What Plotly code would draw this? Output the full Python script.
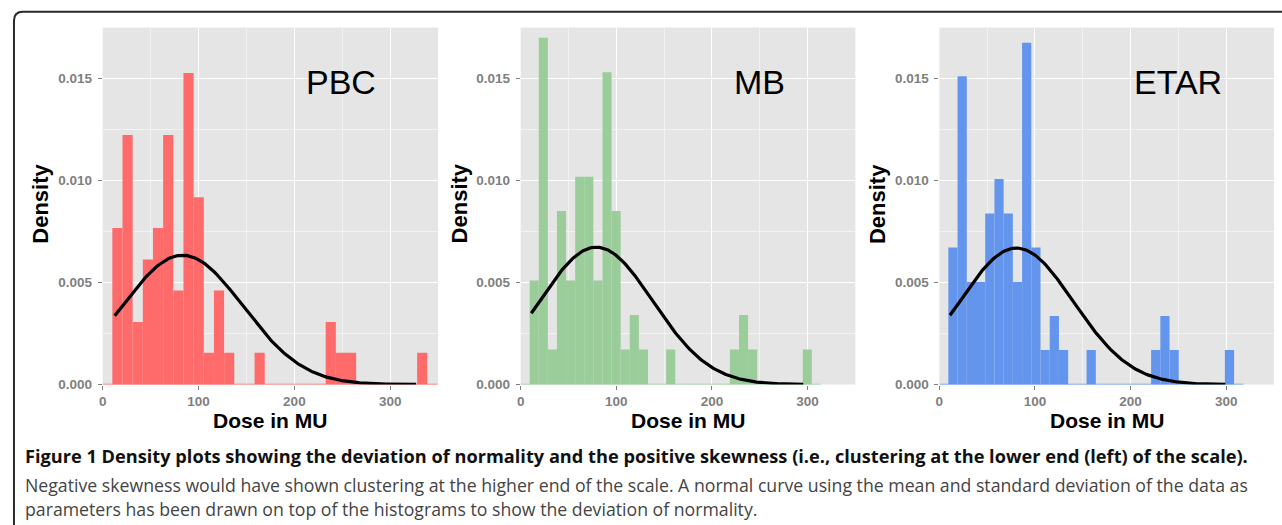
import numpy as np
import plotly.graph_objects as go

# ---------------- data ----------------
dose_ticks = [0, 100, 200, 300]
density_ticks = [0.000, 0.005, 0.010, 0.015]

pbc_bin_start = 10.07
pbc_bin_width = 10.6
pbc_density = [0.00766, 0.01222, 0.00306, 0.00612, 0.00766, 0.01222, 0.00460, 0.01526,
               0.00917, 0.00156, 0.00460, 0.00156, 0, 0, 0.00156, 0, 0, 0, 0, 0, 0,
               0.00306, 0.00156, 0.00156, 0, 0, 0, 0, 0, 0, 0.00156]
pbc_mean, pbc_sd, pbc_min, pbc_max = 83.3, 63.0, 12.5, 327.0

mb_bin_start = 9.38
mb_bin_width = 9.52
mb_density = [0.00510, 0.01698, 0.00171, 0.00850, 0.00510, 0.01017, 0.01017, 0.00510,
              0.01529, 0.00850, 0.00171, 0.00341, 0.00171, 0, 0, 0.00171, 0, 0, 0, 0, 0, 0,
              0.00171, 0.00341, 0.00171, 0, 0, 0, 0, 0, 0.00171]
mb_mean, mb_sd, mb_min, mb_max = 79.0, 59.3, 11.1, 295.5

etar_bin_start = 9.38
etar_bin_width = 9.64
etar_density = [0.00671, 0.01510, 0.00502, 0.00502, 0.00837, 0.01006, 0.00837, 0.00502,
                0.01674, 0.00671, 0.00169, 0.00336, 0.00169, 0, 0, 0.00169, 0, 0, 0, 0, 0, 0,
                0.00169, 0.00336, 0.00169, 0, 0, 0, 0, 0, 0.00169]
etar_mean, etar_sd, etar_min, etar_max = 80.6, 59.7, 11.1, 299.0

panel_names = ["PBC", "MB", "ETAR"]

caption_bold = ("Figure 1 Density plots showing the deviation of normality and the positive "
                "skewness (i.e., clustering at the lower end (left) of the scale).")
caption_line2 = ("Negative skewness would have shown clustering at the higher end of the scale. "
                 "A normal curve using the mean and standard deviation of the data as")
caption_line3 = ("parameters has been drawn on top of the histograms to show the deviation of normality.")

# ---------------- layout / styling ----------------
W, H = 1282, 525


def px(x):
    return x / W


def py(y):
    return 1 - y / H


panels = [
    dict(name=panel_names[0], color="#FF6B6B", start=pbc_bin_start, width=pbc_bin_width,
         dens=pbc_density, mean=pbc_mean, sd=pbc_sd, lo=pbc_min, hi=pbc_max,
         dom=(99, 435.5), lab_x=338, ytitle_x=37),
    dict(name=panel_names[1], color="#9BCD9B", start=mb_bin_start, width=mb_bin_width,
         dens=mb_density, mean=mb_mean, sd=mb_sd, lo=mb_min, hi=mb_max,
         dom=(518.3, 854), lab_x=758, ytitle_x=457),
    dict(name=panel_names[2], color="#6495ED", start=etar_bin_start, width=etar_bin_width,
         dens=etar_density, mean=etar_mean, sd=etar_sd, lo=etar_min, hi=etar_max,
         dom=(938.3, 1274), lab_x=1178, ytitle_x=877),
]

plot_top, plot_bottom = 28, 390.5
y_top_val = 0.01748

fig = go.Figure()
annotations = []
layout_axes = {}

tickfont = dict(family="Liberation Sans, Arial, sans-serif", size=13.5, color="#7F7F7F", weight="bold")

for i, p in enumerate(panels):
    k = "" if i == 0 else str(i + 1)
    xa, ya = "x" + k, "y" + k
    n = len(p["dens"])
    centers = [p["start"] + (j + 0.5) * p["width"] for j in range(n)]
    # baseline of the (empty) bins
    fig.add_trace(go.Scatter(x=[p["start"] - p["width"], p["start"] + (n + 1) * p["width"]],
                             y=[0, 0], mode="lines", line=dict(color=p["color"], width=1.5),
                             xaxis=xa, yaxis=ya, showlegend=False, hoverinfo="skip"))
    fig.add_trace(go.Bar(x=centers, y=p["dens"], width=p["width"], marker=dict(color=p["color"], line=dict(width=0)),
                         xaxis=xa, yaxis=ya, showlegend=False))
    xs = np.linspace(p["lo"], p["hi"], 200)
    ys = np.exp(-0.5 * ((xs - p["mean"]) / p["sd"]) ** 2) / (p["sd"] * np.sqrt(2 * np.pi))
    fig.add_trace(go.Scatter(x=xs, y=ys, mode="lines", line=dict(color="black", width=3.2),
                             xaxis=xa, yaxis=ya, showlegend=False))

    layout_axes["xaxis" + k] = dict(
        domain=[px(p["dom"][0]), px(p["dom"][1])], range=[0, 350], anchor=ya,
        tickvals=dose_ticks, ticks="outside", ticklen=4, tickcolor="#7F7F7F", tickwidth=1.2,
        tickfont=tickfont, showgrid=True, gridcolor="white", gridwidth=1.3,
        minor=dict(tick0=0, dtick=50, showgrid=True, gridcolor="#F2F2F2", gridwidth=0.8, ticks=""),
        zeroline=False, showline=False, fixedrange=True)
    layout_axes["yaxis" + k] = dict(
        domain=[py(plot_bottom), py(plot_top)], range=[0, y_top_val], anchor=xa,
        tickvals=density_ticks, tickformat=".3f", ticks="outside", ticklen=4, tickcolor="#7F7F7F",
        tickwidth=1.2, tickfont=tickfont, ticklabelstandoff=3, showgrid=True, gridcolor="white",
        gridwidth=1.3,
        minor=dict(tick0=0, dtick=0.0025, showgrid=True, gridcolor="#F2F2F2", gridwidth=0.8, ticks=""),
        zeroline=False, showline=False, fixedrange=True)

    annotations.append(dict(text=p["name"], x=px(p["lab_x"]), y=py(83.5), xref="paper", yref="paper",
                            xanchor="center", yanchor="middle", showarrow=False,
                            font=dict(family="Liberation Sans, Arial, sans-serif", size=34, color="black")))
    annotations.append(dict(text="Density", x=px(p["ytitle_x"]), y=py(207), xref="paper", yref="paper",
                            xanchor="center", yanchor="middle", textangle=-90, showarrow=False,
                            font=dict(family="Liberation Sans, Arial, sans-serif", size=22, color="black",
                                      weight="bold")))
    annotations.append(dict(text="Dose in MU", x=px((p["dom"][0] + p["dom"][1]) / 2), y=py(426.5),
                            xref="paper", yref="paper", xanchor="center", yanchor="middle", showarrow=False,
                            font=dict(family="Liberation Sans, Arial, sans-serif", size=21, color="black",
                                      weight="bold")))

cap_font = "Open Sans, Lato, sans-serif"
annotations.append(dict(text=caption_bold, x=px(19), y=py(463), xref="paper", yref="paper",
                        xanchor="left", yanchor="middle", showarrow=False,
                        font=dict(family=cap_font, size=18.2, color="#111111", weight="bold")))
annotations.append(dict(text=caption_line2, x=px(19), y=py(492), xref="paper", yref="paper",
                        xanchor="left", yanchor="middle", showarrow=False,
                        font=dict(family=cap_font, size=17.7, color="#444444")))
annotations.append(dict(text=caption_line3, x=px(19), y=py(517), xref="paper", yref="paper",
                        xanchor="left", yanchor="middle", showarrow=False,
                        font=dict(family=cap_font, size=17.7, color="#444444")))

# rounded frame open at right/bottom
x0, y0, r = 10, 12, 9
path = (f"M {px(x0)},{py(540)} L {px(x0)},{py(y0 + r)} "
        f"Q {px(x0)},{py(y0)} {px(x0 + r)},{py(y0)} L {px(1300)},{py(y0)}")
shapes = [dict(type="path", path=path, xref="paper", yref="paper",
               line=dict(color="#2a2a2a", width=2))]

fig.update_layout(
    width=W, height=H, margin=dict(l=0, r=0, t=0, b=0),
    paper_bgcolor="white", plot_bgcolor="#E5E5E5",
    barmode="overlay", annotations=annotations, shapes=shapes,
    showlegend=False, **layout_axes)

fig.write_html("out.html")
